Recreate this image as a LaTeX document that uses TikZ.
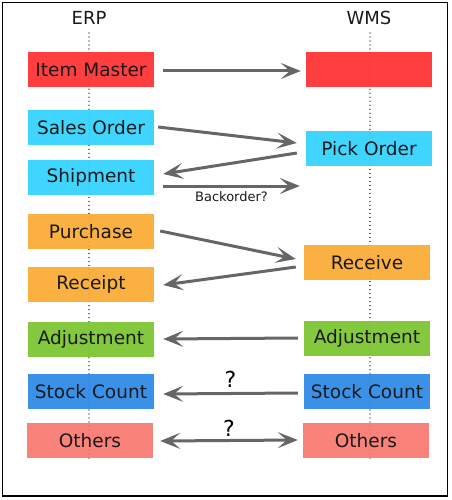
\documentclass[tikz,border=0pt]{standalone}
\usepackage{fontspec}
\setmainfont{DejaVu Sans}
\usetikzlibrary{arrows.meta}
\definecolor{cRed}{HTML}{FF3030}
\definecolor{cCyan}{HTML}{30D2FF}
\definecolor{cOrange}{HTML}{FBAB33}
\definecolor{cGreen}{HTML}{7BC42E}
\definecolor{cBlue}{HTML}{2C88E6}
\definecolor{cSalmon}{HTML}{F97870}
\definecolor{cArrow}{HTML}{666666}
\definecolor{cText}{HTML}{1A1A1A}
\tikzset{
  box/.style={minimum width=126pt,minimum height=35pt,inner sep=0pt,draw=none,fill opacity=0.93,text opacity=1,text=cText,font=\fontsize{18.5}{20}\selectfont},
  tip/.style={},
  flow/.style={draw=cArrow,line width=3pt,-{Stealth[length=20pt,width=16pt,inset=9pt]}},
  flow2/.style={draw=cArrow,line width=3pt,{Stealth[length=20pt,width=16pt,inset=9pt]}-{Stealth[length=20pt,width=16pt,inset=9pt]}},
  lane/.style={draw=black!75,line width=1.2pt,dash pattern=on 0.01pt off 4pt,line cap=round},
  hdr/.style={text=cText,font=\fontsize{18}{20}\selectfont},
  qlbl/.style={text=black,font=\fontsize{22}{24}\selectfont}
}
\begin{document}
\begin{tikzpicture}[x=1pt,y=-1pt]
\useasboundingbox (0,0) rectangle (451,500);
\draw[line width=1.5pt] (2.5,2.5) rectangle (447.5,496);
\node[hdr] (erp) at (89,18) {ERP};
\node[hdr] (wms) at (369,18) {WMS};
\coordinate (et) at (89,33);
\coordinate (eb) at (89,461);
\coordinate (wt) at (370,33);
\coordinate (wb) at (370,461);
\draw[lane] (et) -- (eb);
\draw[lane] (wt) -- (wb);
% ERP boxes
\node[box,fill=cRed] (im) at (91,69.5) {Item Master};
\node[box,fill=cCyan] (so) at (91,127.5) {Sales Order};
\node[box,fill=cCyan] (sh) at (91,177.5) {Shipment};
\node[box,fill=cOrange] (pu) at (91,231.5) {Purchase};
\node[box,fill=cOrange] (re) at (91,284.5) {Receipt};
\node[box,fill=cGreen] (ad) at (91,339.5) {Adjustment};
\node[box,fill=cBlue] (sc) at (91,391.5) {Stock Count};
\node[box,fill=cSalmon] (ot) at (90,440.5) {Others};
% WMS boxes
\node[box,fill=cRed] (wim) at (369,69.5) {};
\node[box,fill=cCyan] (po) at (369,148.5) {Pick Order};
\node[box,fill=cOrange] (rv) at (367,262.5) {Receive};
\node[box,fill=cGreen] (wad) at (367,338.5) {Adjustment};
\node[box,fill=cBlue] (wsc) at (367,391.5) {Stock Count};
\node[box,fill=cSalmon] (wot) at (366,440.5) {Others};
% connectors
\draw[flow] ([xshift=9pt,yshift=-1.5pt]im.east) -- ([xshift=-5pt,yshift=-1.5pt]wim.west);
\draw[flow] ([shift={(4pt,0.5pt)}]so.east) -- ([shift={(-9pt,5.5pt)}]po.west);
\draw[flow] ([shift={(-9pt,-4.5pt)}]po.west) -- ([shift={(9pt,3.5pt)}]sh.east);
\draw[flow] ([shift={(9pt,-8.5pt)}]sh.east) -- ([shift={(-6pt,-37.5pt)}]po.west) node[pos=0.5,below=1pt,text=cText,font=\fontsize{13}{15}\selectfont] {Backorder?};
\draw[flow] ([shift={(6pt,0.5pt)}]pu.east) -- ([shift={(-8pt,3.5pt)}]rv.west);
\draw[flow] ([shift={(-8pt,-4.5pt)}]rv.west) -- ([shift={(9pt,-0.5pt)}]re.east);
\draw[flow] ([xshift=-6pt,yshift=0.5pt]wad.west) -- ([xshift=9pt,yshift=0.5pt]ad.east);
\draw[flow] ([xshift=-6pt,yshift=-1.5pt]wsc.west) -- ([xshift=9pt,yshift=-2.5pt]sc.east) node[pos=0.5,above=1pt,qlbl] {?};
\draw[flow2] ([xshift=7pt,yshift=-0.5pt]ot.east) -- ([xshift=-5pt,yshift=0.5pt]wot.west) node[pos=0.5,above=-1pt,qlbl] {?};
\end{tikzpicture}
\end{document}
